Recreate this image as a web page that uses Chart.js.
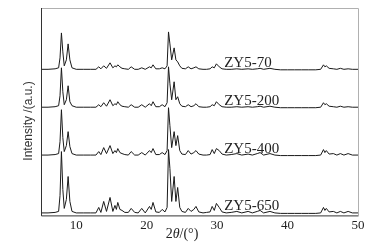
<!DOCTYPE html>
<html>
<head>
<meta charset="utf-8">
<script src="https://cdn.jsdelivr.net/npm/chart.js@4"></script>
<style>
html, body { margin: 0; padding: 0; background: #fff; }
</style>
</head>
<body>
<canvas id="myChart" width="381" height="248"></canvas>
<script>
// 2-theta positions (degrees) shared by every pattern
var twoTheta = [
  5.0, 6.0, 7.0, 7.5, 7.7, 7.9, 8.1, 8.3, 8.6, 8.85,
  9.1, 9.4, 10.0, 11.0, 12.0, 12.8, 13.2, 13.5, 13.9, 14.3,
  14.8, 15.2, 15.5, 15.7, 15.9, 16.2, 16.5, 16.9, 17.4, 17.8,
  18.3, 18.8, 19.3, 19.8, 20.4, 20.65, 20.9, 21.3, 21.8, 22.2,
  22.6, 22.9, 23.1, 23.3, 23.55, 23.9, 24.15, 24.4, 24.7, 25.0,
  25.5, 25.9, 26.3, 26.7, 27.0, 27.4, 28.0, 28.5, 29.0, 29.3,
  29.6, 29.9, 30.3, 30.7, 31.3, 32.0, 32.8, 33.5, 34.4, 35.0,
  35.7, 36.1, 36.6, 37.5, 38.2, 39.0, 40.0, 41.0, 42.0, 43.0,
  44.0, 44.7, 45.1, 45.3, 45.5, 45.9, 46.5, 47.0, 47.5, 48.0,
  48.6, 49.2, 50.0
];

// intensities (a.u.) above each pattern's own baseline
var zy5_70 = [
  0.5, 0.5, 1, 2, 12, 37, 18, 4, 10, 26,
  10, 2, 0.5, 0.5, 0.5, 0.5, 3, 1, 4, 1.5,
  7, 2, 4, 3, 5, 3, 1.5, 1, 0.5, 3,
  0.5, 0.5, 2, 0.5, 3, 2, 5, 1, 1, 2,
  1, 4, 38, 26, 10, 22, 10, 8, 4, 1.5,
  1, 3, 1, 2, 3, 1, 0.5, 0.5, 1, 3,
  2, 6, 3, 1, 0.5, 0.5, 1, 0.5, 1, 0.5,
  1, 1.5, 0.5, 1.5, 0.5, 0, 0, 0, 0, 0,
  0, 0.5, 5, 3, 4, 1.5, 1, 0.5, 1.5, 0.5,
  1, 0.5, 0.5
];
var zy5_200 = [
  0.5, 0.5, 1, 2, 12, 40, 16, 3, 8, 22,
  6, 2, 0.5, 0.5, 0.5, 0.5, 3, 1, 5, 1.5,
  8, 2, 4, 3, 6, 3, 1.5, 1, 0.5, 3,
  0.5, 0.5, 3, 0.5, 4, 2, 6, 1, 1, 3,
  1, 5, 41, 24, 8, 26, 8, 11, 4, 1.5,
  1, 3, 1, 2, 4, 1, 0.5, 0.5, 1, 3,
  2, 6, 3, 1, 0.5, 0.5, 1, 0.5, 1, 0.5,
  1, 1.5, 0.5, 1.5, 0.5, 0, 0, 0, 0, 0,
  0, 0.5, 5, 3, 4, 1.5, 1, 0.5, 1.5, 0.5,
  1, 0.5, 0.5
];
var zy5_400 = [
  0.5, 0.5, 1, 2, 14, 46, 18, 4, 10, 24,
  9, 2, 0.5, 0.5, 0.5, 0.5, 4, 1, 8, 2,
  10, 2, 5, 3, 7, 3, 2, 1, 0.5, 4,
  0.5, 0.5, 3, 0.5, 5, 3, 7, 1, 1, 3,
  1, 5, 48, 30, 8, 24, 10, 20, 5, 1.5,
  1, 5, 1.5, 3, 5, 1.5, 0.5, 0.5, 1, 6,
  2, 7, 5, 1.5, 0.5, 1, 2, 0.5, 1.5, 0.5,
  2, 3, 0.5, 2, 0.5, 0, 0, 0, 0, 0,
  0, 0.5, 6, 3, 5, 1.5, 2, 0.5, 2, 0.5,
  2, 0.5, 0.5
];
var zy5_650 = [
  0.5, 0.5, 1, 2, 18, 62, 24, 5, 14, 37,
  12, 2, 0.5, 0.5, 0.5, 0.5, 6, 1, 12, 2,
  16, 2, 8, 4, 11, 4, 3, 1, 1, 5,
  1, 0.5, 5, 0.5, 7, 4, 11, 1.5, 1, 4,
  1.5, 6, 64, 45, 12, 37, 12, 26, 6, 2,
  1, 5, 2, 4, 7, 1.5, 0.5, 1, 1.5, 7,
  3, 10, 6, 1.5, 0.5, 1, 2, 0.5, 2, 0.5,
  2, 3, 0.5, 2, 0.5, 0, 0, 0, 0, 0,
  0, 0.5, 6, 3, 5, 1.5, 2, 0.5, 2, 0.5,
  2, 0.5, 0.5
];

var sampleNames = ["ZY5-70", "ZY5-200", "ZY5-400", "ZY5-650"];
var baselines = [146, 108, 60, 2];   // vertical offset of each pattern
var xTicks = [10, 20, 30, 40, 50];

var patterns = [zy5_70, zy5_200, zy5_400, zy5_650];

function stack(vals, base) {
  return twoTheta.map(function (t, i) { return { x: t, y: base + vals[i] }; });
}

var datasets = patterns.map(function (vals, k) {
  return {
    label: sampleNames[k],
    data: stack(vals, baselines[k]),
    borderColor: '#1a1a1a',
    borderWidth: 1,
    pointRadius: 0,
    tension: 0,
    fill: false
  };
});

// frame, sample names and axis titles
var annotate = {
  id: 'annotate',
  afterDraw: function (chart) {
    var c = chart.ctx, a = chart.chartArea;
    var xs = chart.scales.x, ys = chart.scales.y;
    c.save();
    c.lineWidth = 1;
    c.strokeStyle = '#b0b0b0';
    c.beginPath();
    c.moveTo(a.left, a.top + 0.5);
    c.lineTo(a.right + 0.5, a.top + 0.5);
    c.lineTo(a.right + 0.5, a.bottom);
    c.stroke();
    c.strokeStyle = '#333';
    c.beginPath();
    c.moveTo(a.left + 0.5, a.top);
    c.lineTo(a.left + 0.5, a.bottom + 0.5);
    c.lineTo(a.right + 0.5, a.bottom + 0.5);
    c.stroke();

    c.fillStyle = '#222';
    c.font = '15px "Liberation Serif"';
    c.textBaseline = 'alphabetic';
    c.textAlign = 'left';
    sampleNames.forEach(function (n, k) {
      c.fillText(n, xs.getPixelForValue(31), ys.getPixelForValue(baselines[k]) - 3);
    });

    // x title: 2θ/(°) with italic theta
    var parts = [['2', '14px "Liberation Serif"'], ['\u03b8', 'italic 14px "Liberation Serif"'], ['/(\u00b0)', '14px "Liberation Serif"']];
    var w = 0;
    parts.forEach(function (p) { c.font = p[1]; w += c.measureText(p[0]).width; });
    var x0 = 182 - w / 2;
    c.textBaseline = 'middle';
    parts.forEach(function (p) { c.font = p[1]; c.fillText(p[0], x0, 234); x0 += c.measureText(p[0]).width; });

    // y title
    c.translate(29, 121);
    c.rotate(-Math.PI / 2);
    c.textAlign = 'center';
    c.font = '12px "Liberation Sans"';
    c.fillStyle = '#333';
    c.fillText('Intensity /(a.u.)', 0, 0);
    c.restore();
  }
};

var ctx = document.getElementById('myChart').getContext('2d');
var chart = new Chart(ctx, {
  type: 'line',
  data: { datasets: datasets },
  options: {
    responsive: false,
    animation: false,
    layout: { padding: { left: 41, right: 23, top: 8, bottom: 13 } },
    plugins: { legend: { display: false }, tooltip: { enabled: false } },
    scales: {
      x: {
        type: 'linear',
        min: 5,
        max: 50,
        afterBuildTicks: function (s) { s.ticks = xTicks.map(function (v) { return { value: v }; }); },
        grid: { display: false, drawTicks: false },
        border: { display: false },
        ticks: {
          padding: 2,
          color: '#222',
          font: { family: 'Liberation Serif', size: 13 }
        }
      },
      y: { display: false, min: 0, max: 208 }
    }
  },
  plugins: [annotate]
});
</script>
</body>
</html>
